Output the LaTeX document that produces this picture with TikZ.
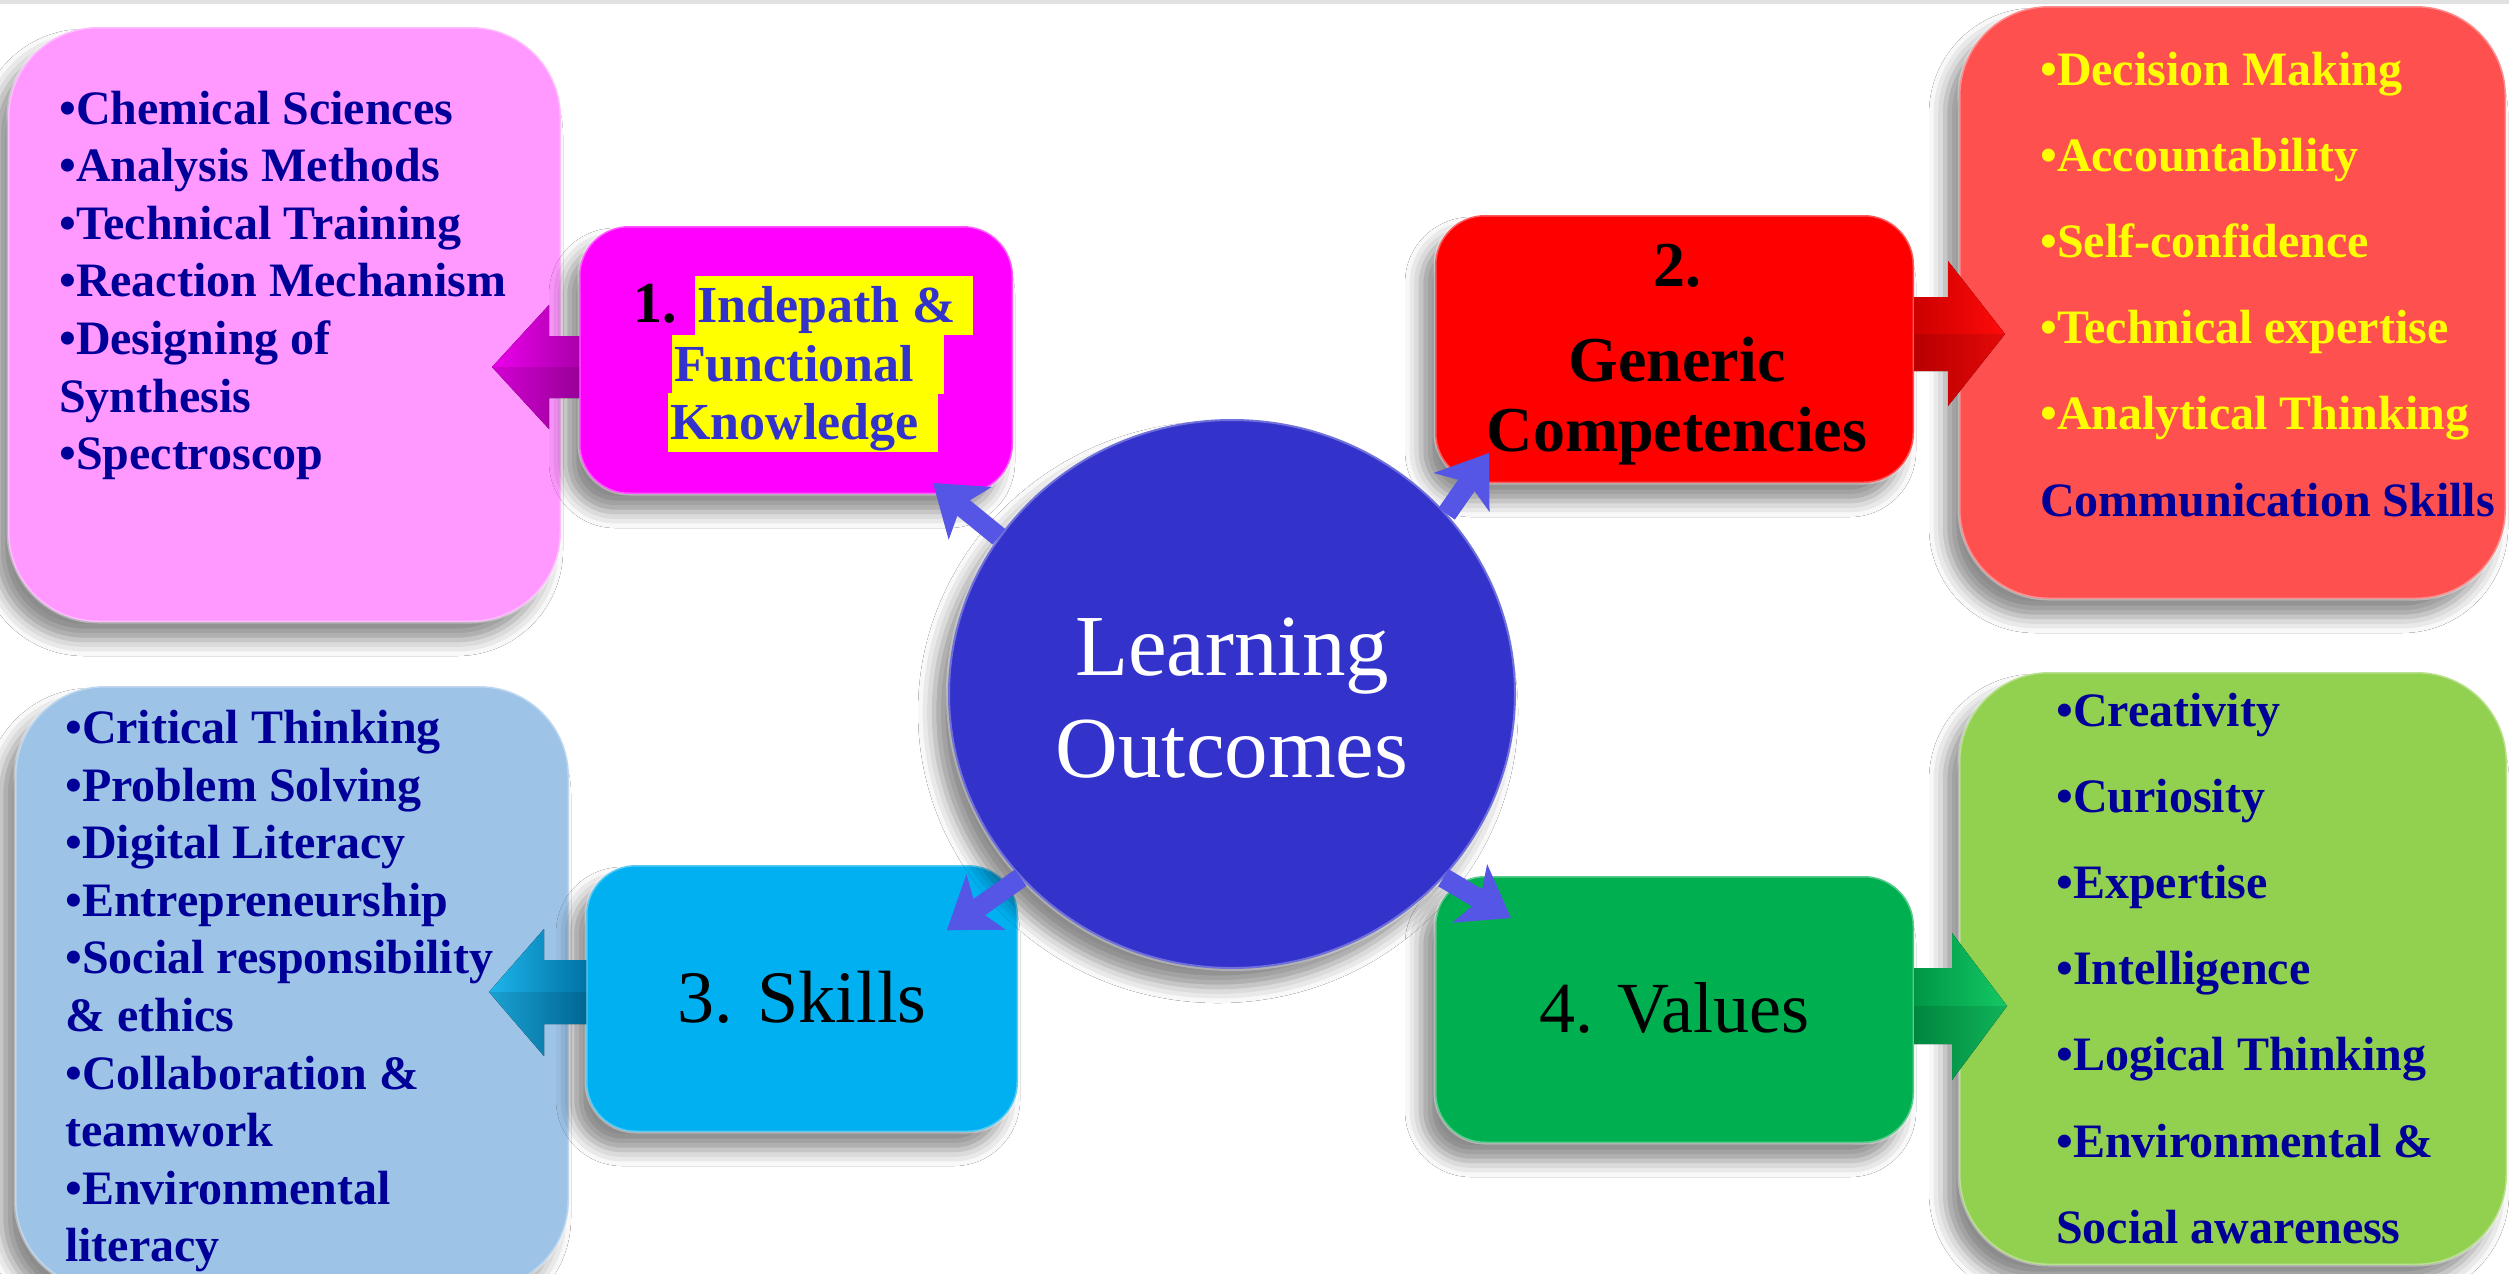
\documentclass[tikz,border=0pt]{standalone}
\usepackage{fontspec}
\setmainfont{Liberation Serif}
\usetikzlibrary{shapes.geometric,shadows.blur,calc,arrows.meta}

\definecolor{pinklist}{RGB}{255,153,255}
\definecolor{magbox}{RGB}{255,0,255}
\definecolor{redbox}{RGB}{255,0,0}
\definecolor{redlist}{RGB}{255,80,80}
\definecolor{circblue}{RGB}{51,51,204}
\definecolor{cyanbox}{RGB}{0,176,240}
\definecolor{bluelist}{RGB}{157,195,230}
\definecolor{greenbox}{RGB}{0,176,80}
\definecolor{greenlist}{RGB}{146,208,80}
\definecolor{navytext}{RGB}{0,0,153}
\definecolor{hlyellow}{RGB}{255,255,0}
\definecolor{arrowblue}{RGB}{85,85,230}
\definecolor{magarrow}{RGB}{235,0,235}
\definecolor{magarrowdk}{RGB}{170,0,170}
\definecolor{redarrow}{RGB}{255,10,10}
\definecolor{redarrowdk}{RGB}{205,0,0}
\definecolor{cyanarrow}{RGB}{30,180,235}
\definecolor{cyanarrowdk}{RGB}{0,115,165}
\definecolor{greenarrow}{RGB}{20,200,100}
\definecolor{greenarrowdk}{RGB}{0,150,70}
\definecolor{topgray}{RGB}{225,225,225}

\newcommand\hlline[2]{{\setlength\fboxsep{0pt}\colorbox{hlyellow}{\makebox[#1][l]{\rule[-13pt]{0pt}{59pt}\hspace{2pt}#2}}}}
\newcommand\itemtab[1]{\begin{tabular}[t]{@{}l@{}}#1\end{tabular}}
\newcommand\centab[1]{\begin{tabular}[t]{@{}c@{}}#1\end{tabular}}

\tikzset{
  boxshadow/.style={blur shadow={shadow xshift=-14pt, shadow yshift=-18pt, shadow blur radius=16pt, shadow opacity=45}},
  listbox/.style={rounded corners=90pt, inner sep=0pt, outer sep=0pt, boxshadow, draw=white, draw opacity=0.35, line width=3pt},
  mainbox/.style={rounded corners=50pt, inner sep=0pt, outer sep=0pt, boxshadow, draw=white, draw opacity=0.35, line width=3pt, minimum width=#1, minimum height=268pt},
  mainbox/.default=434pt,
  listtext/.style={anchor=base west, inner sep=0pt, font=\fontsize{48}{57.6}\selectfont\bfseries, text=navytext},
  widelist/.style={listtext, font=\fontsize{48}{86.2}\selectfont\bfseries},
  bluearrow/.style={draw=arrowblue, line width=20pt, -{Stealth[length=48pt, width=68pt, inset=12pt, line width=1pt]}},
  facet/.style={fill=black, fill opacity=0.10},
}

\begin{document}
\begin{tikzpicture}[x=1pt, y=-1pt]
\useasboundingbox (0,0) rectangle (2509,1274);
\fill[white] (0,0) rectangle (2509,1274);
\fill[topgray] (0,0) rectangle (2509,4);

% list boxes
\node[listbox, fill=pinklist, minimum width=553pt, minimum height=595pt] (pl) at (284.5,324.5) {};
\node[listbox, fill=redlist, minimum width=547pt, minimum height=593pt] (rl) at (2232.5,302.5) {};
\node[listbox, fill=bluelist, minimum width=554pt, minimum height=604pt] (bl) at (292,988) {};
\node[listbox, fill=greenlist, minimum width=548pt, minimum height=593pt] (gl) at (2233,968.5) {};

% main boxes
\node[mainbox=434pt, fill=magbox] (b1) at (796,360) {};
\node[mainbox=479pt, fill=redbox] (b2) at (1674.5,349) {};
\node[mainbox=432pt, fill=cyanbox, minimum height=267pt] (b3) at (802,998.5) {};
\node[mainbox=479pt, fill=greenbox, minimum height=267pt] (b4) at (1674.5,1009.5) {};

% big block arrows
\fill[left color=magarrow, right color=magarrowdk] ($(b1.west)+(0,-24)$) -- ++(-30,0) -- ++(0,-31) -- ++(-57,62) -- ++(57,62) -- ++(0,-31) -- ++(30,0) -- cycle;
\fill[facet] ($(b1.west)+(0,7)$) -- ++(-87,0) -- ++(57,62) -- ++(0,-31) -- ++(30,0) -- cycle;

\fill[left color=redarrowdk, right color=redarrow] ($(b2.east)+(0,-52)$) -- ++(34,0) -- ++(0,-36) -- ++(57,73) -- ++(-57,72) -- ++(0,-35) -- ++(-34,0) -- cycle;
\fill[facet] ($(b2.east)+(0,-15)$) -- ++(91,0) -- ++(-57,72) -- ++(0,-35) -- ++(-34,0) -- cycle;

\fill[left color=cyanarrow, right color=cyanarrowdk] ($(b3.west)+(0,-38.5)$) -- ++(-42,0) -- ++(0,-31) -- ++(-55,63) -- ++(55,64) -- ++(0,-32) -- ++(42,0) -- cycle;
\fill[facet] ($(b3.west)+(0,-6.5)$) -- ++(-97,0) -- ++(55,64) -- ++(0,-32) -- ++(42,0) -- cycle;

\fill[left color=greenarrowdk, right color=greenarrow] ($(b4.east)+(0,-41.5)$) -- ++(38,0) -- ++(0,-35) -- ++(55,73) -- ++(-55,74) -- ++(0,-36) -- ++(-38,0) -- cycle;
\fill[facet] ($(b4.east)+(0,-3.5)$) -- ++(93,0) -- ++(-55,74) -- ++(0,-36) -- ++(-38,0) -- cycle;

% central circle
\node[ellipse, fill=circblue, minimum width=568pt, minimum height=550pt, inner sep=0pt, outer sep=0pt, boxshadow, draw=white, draw opacity=0.3, line width=4pt] (lo) at (1232,694) {};

% blue arrows from the circle
\coordinate (t1) at (933,483);
\coordinate (t2) at (1489,453);
\coordinate (t3) at (947,930);
\coordinate (t4) at (1511,918);
\draw[bluearrow] (lo.146) -- (t1);
\draw[bluearrow] (lo.40) -- (t2);
\draw[bluearrow] (lo.221) -- (t3);
\draw[bluearrow] (lo.319) -- (t4);

% texts
\node[anchor=base, inner sep=0pt, text=white, font=\fontsize{87}{102}\selectfont] (lot) at (1232,675) {\centab{Learning\\Outcomes}};

\node[anchor=base west, inner sep=0pt, font=\fontsize{58}{58}\selectfont\bfseries] (b1num) at (633,322) {1.};
\node[anchor=base west, inner sep=0pt, text=circblue, font=\fontsize{52}{58}\selectfont\bfseries] (b1l1) at (695,322) {\hlline{278pt}{Indepath \&}};
\node[anchor=base west, inner sep=0pt, text=circblue, font=\fontsize{52}{58}\selectfont\bfseries] (b1l2) at (672,381) {\hlline{272pt}{Functional}};
\node[anchor=base west, inner sep=0pt, text=circblue, font=\fontsize{52}{58}\selectfont\bfseries] (b1l3) at (668,439) {\hlline{270pt}{Knowledge}};

\node[anchor=base, inner sep=0pt, font=\fontsize{64}{70}\selectfont\bfseries] (b2t) at (1677,286) {\centab{2.\\[25pt]Generic\\Competencies}};
\node[anchor=base, inner sep=0pt, font=\fontsize{74}{80}\selectfont] (b3t) at (802,1022) {3. Skills};
\node[anchor=base, inner sep=0pt, font=\fontsize{72}{80}\selectfont] (b4t) at (1674,1032) {4. Values};

\node[listtext] (plt) at (59,124) {\itemtab{•Chemical Sciences\\•Analysis Methods\\•Technical Training\\•Reaction Mechanism\\•Designing of\\Synthesis\\•Spectroscop}};
\node[widelist, text=hlyellow] (rlt) at (2040,85) {\itemtab{•Decision Making\\•Accountability\\•Self-confidence\\•Technical expertise\\•Analytical Thinking\\\color{navytext}Communication Skills}};
\node[listtext] (blt) at (65,743.5) {\itemtab{•Critical Thinking\\•Problem Solving\\•Digital Literacy\\•Entrepreneurship\\•Social responsibility\\\& ethics\\•Collaboration \&\\teamwork\\•Environmental\\literacy}};
\node[widelist] (glt) at (2056,726) {\itemtab{•Creativity\\•Curiosity\\•Expertise\\•Intelligence\\•Logical Thinking\\•Environmental \&\\Social awareness}};
\end{tikzpicture}
\end{document}
